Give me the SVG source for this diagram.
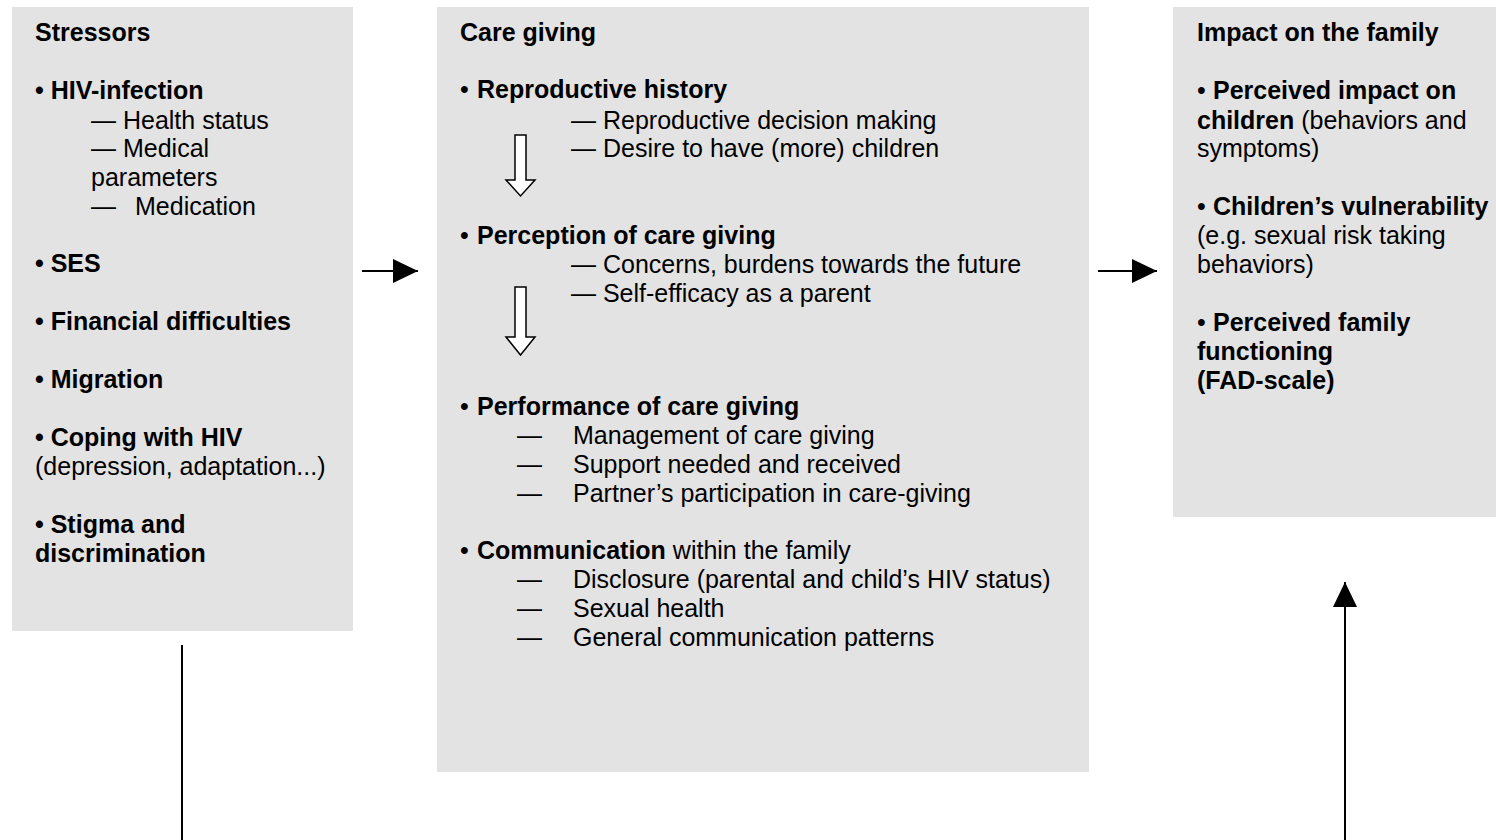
<svg xmlns="http://www.w3.org/2000/svg" width="1496" height="840" viewBox="0 0 1496 840">
<defs>
<style>
.box{fill:#e3e3e3;stroke:none}
text{font-family:"Liberation Sans",Arial,sans-serif;font-size:25px;fill:#000}
.b{font-weight:bold}
.conn{stroke:#000;stroke-width:2;fill:none}
.hollow{fill:#fff;stroke:#000;stroke-width:1.5}
</style>
<marker id="ah" markerWidth="25" markerHeight="24" refX="25" refY="12" orient="auto" markerUnits="userSpaceOnUse">
<path d="M0,0 L25,12 L0,24 Z" fill="#000"/>
</marker>
</defs>
<rect width="1496" height="840" fill="#fff"/>

<g id="stressors">
<rect class="box" x="12" y="7" width="341" height="624"/>
<text x="35" y="41" class="b">Stressors</text>
<text x="35" y="99" class="b">• HIV-infection</text>
<text x="91" y="129">— Health status</text>
<text x="91" y="157">— Medical</text>
<text x="91" y="186">parameters</text>
<text x="91" y="215">—<tspan x="135">Medication</tspan></text>
<text x="35" y="272" class="b">• SES</text>
<text x="35" y="330" class="b">• Financial difficulties</text>
<text x="35" y="388" class="b">• Migration</text>
<text x="35" y="446" class="b">• Coping with HIV</text>
<text x="35" y="475">(depression, adaptation...)</text>
<text x="35" y="533" class="b">• Stigma and</text>
<text x="35" y="562" class="b">discrimination</text>
</g>

<g id="caregiving">
<rect class="box" x="437" y="7" width="652" height="765"/>
<text x="460" y="41" class="b">Care giving</text>
<text x="460" y="98">•<tspan x="477" class="b">Reproductive history</tspan></text>
<text x="571" y="129">— Reproductive decision making</text>
<text x="571" y="157">— Desire to have (more) children</text>
<text x="460" y="244">•<tspan x="477" class="b">Perception of care giving</tspan></text>
<text x="571" y="273">— Concerns, burdens towards the future</text>
<text x="571" y="302">— Self-efficacy as a parent</text>
<text x="460" y="415">•<tspan x="477" class="b">Performance of care giving</tspan></text>
<text x="517" y="444">—<tspan x="573">Management of care giving</tspan></text>
<text x="517" y="473">—<tspan x="573">Support needed and received</tspan></text>
<text x="517" y="502">—<tspan x="573">Partner’s participation in care-giving</tspan></text>
<text x="460" y="559">•<tspan x="477" class="b">Communication</tspan> within the family</text>
<text x="517" y="588">—<tspan x="573">Disclosure (parental and child’s HIV status)</tspan></text>
<text x="517" y="617">—<tspan x="573">Sexual health</tspan></text>
<text x="517" y="646">—<tspan x="573">General communication patterns</tspan></text>
<path class="hollow" d="M515,135 H526 V180 H535 L520.5,196 L506,180 H515 Z"/>
<path class="hollow" d="M515,287 H526 V337 H535 L520.5,355 L506,337 H515 Z"/>
</g>

<g id="impact">
<rect class="box" x="1173" y="7" width="323" height="510"/>
<text x="1197" y="41" class="b">Impact on the family</text>
<text x="1197" y="99">•<tspan x="1213" class="b">Perceived impact on</tspan></text>
<text x="1197" y="129"><tspan class="b">children</tspan> (behaviors and</text>
<text x="1197" y="157">symptoms)</text>
<text x="1197" y="215">•<tspan x="1213" class="b">Children’s vulnerability</tspan></text>
<text x="1197" y="244">(e.g. sexual risk taking</text>
<text x="1197" y="273">behaviors)</text>
<text x="1197" y="331">•<tspan x="1213" class="b">Perceived family</tspan></text>
<text x="1197" y="360" class="b">functioning</text>
<text x="1197" y="389" class="b">(FAD-scale)</text>
</g>

<g id="connectors">
<line class="conn" x1="362" y1="271" x2="418" y2="271" marker-end="url(#ah)"/>
<line class="conn" x1="1098" y1="271" x2="1157" y2="271" marker-end="url(#ah)"/>
<line class="conn" x1="182" y1="645" x2="182" y2="840"/>
<line class="conn" x1="1345" y1="840" x2="1345" y2="582" marker-end="url(#ah)"/>
</g>
</svg>
